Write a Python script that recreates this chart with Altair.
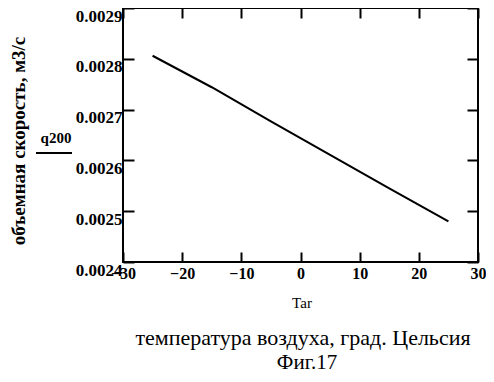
import altair as alt
import pandas as pd

# data
temps = [-25, -15, -5, 5, 15, 25]
q200 = [0.002806, 0.002744, 0.002677, 0.002611, 0.002545, 0.00248]
x_ticks = [-30, -20, -10, 0, 10, 20, 30]
y_ticks = [0.0024, 0.0025, 0.0026, 0.0027, 0.0028, 0.0029]

W, H = 355, 254
FONT = "Liberation Serif"

df = pd.DataFrame({"Tar": temps, "q200": q200})

xs = alt.Scale(domain=[-30, 30], nice=False, zero=False)
ys = alt.Scale(domain=[0.0024, 0.0029], nice=False, zero=False)

base = alt.Chart(df)

main = base.mark_line(color="black", strokeWidth=2).encode(
    x=alt.X("Tar:Q", scale=xs,
            axis=alt.Axis(orient="bottom", values=x_ticks, format="d", title=None,
                          domain=False, grid=False, offset=-10, tickSize=10, tickWidth=2,
                          tickColor="black", labelPadding=3, labelFont=FONT,
                          labelFontSize=16, labelFontWeight="bold", labelColor="black",
                          labelFlush=False, labelOverlap=False)),
    y=alt.Y("q200:Q", scale=ys,
            axis=alt.Axis(orient="left", values=y_ticks, format=".4f", title=None,
                          domain=False, grid=False, offset=-11, tickSize=11, tickWidth=2,
                          tickColor="black", labelPadding=1, labelFont=FONT,
                          labelFontSize=17, labelFontWeight="bold", labelColor="black",
                          labelBaseline="top", labelFlush=False, labelOverlap=False)),
)

mirror = base.mark_line(opacity=0).encode(
    x=alt.X("Tar:Q", scale=xs,
            axis=alt.Axis(orient="top", values=x_ticks, labels=False, title=None,
                          domain=False, grid=False, offset=-10, tickSize=10, tickWidth=2,
                          tickColor="black")),
    y=alt.Y("q200:Q", scale=ys,
            axis=alt.Axis(orient="right", values=y_ticks, labels=False, title=None,
                          domain=False, grid=False, offset=-11, tickSize=11, tickWidth=2,
                          tickColor="black")),
)

annot = pd.DataFrame({"t": ["x"]})
abase = alt.Chart(annot)

ytitle = abase.mark_text(font=FONT, fontSize=19, fontWeight="bold", angle=270,
                         align="center", baseline="middle", color="black").encode(
    x=alt.value(-104), y=alt.value(133), text=alt.value("объемная скорость, м3/с"))

qlabel = abase.mark_text(font=FONT, fontSize=15, fontWeight="bold",
                         align="center", baseline="alphabetic", color="black").encode(
    x=alt.value(-67), y=alt.value(135), text=alt.value("q200"))

qline = abase.mark_rule(color="black", strokeWidth=2).encode(
    x=alt.value(-87), x2=alt.value(-51), y=alt.value(145))

xtitle = abase.mark_text(font=FONT, fontSize=15, align="center",
                         baseline="alphabetic", color="black").encode(
    x=alt.value(179), y=alt.value(300), text=alt.value("Tar"))

caption1 = abase.mark_text(font=FONT, fontSize=22, align="center",
                           baseline="alphabetic", color="black").encode(
    x=alt.value(180), y=alt.value(337), text=alt.value("температура воздуха, град. Цельсия"))

caption2 = abase.mark_text(font=FONT, fontSize=21, align="center",
                           baseline="alphabetic", color="black").encode(
    x=alt.value(184), y=alt.value(361), text=alt.value("Фиг.17"))

chart = alt.layer(main, mirror, ytitle, qlabel, qline, xtitle, caption1, caption2).resolve_axis(
    x="independent", y="independent"
).properties(
    width=W, height=H,
    autosize=alt.AutoSizeParams(type="none"),
    padding={"left": 115, "top": 0, "right": 8, "bottom": 112},
    background="white",
).configure_view(stroke="black", strokeWidth=2)

chart.save("out.html", embed_options={"renderer": "svg", "actions": False})
